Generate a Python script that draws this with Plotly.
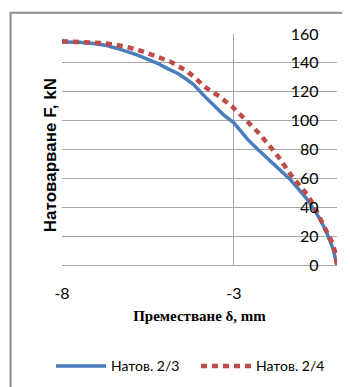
import plotly.graph_objects as go

# Натов. 2/3 (blue)
x_23 = [-8.0, -7.5, -7.09, -6.7, -6.39, -6.1, -5.8, -5.5, -5.22, -4.93, -4.64, -4.4, -4.17,
        -3.9, -3.57, -3.3, -3.0, -2.6, -2.3, -2.0, -1.72, -1.5, -1.37, -1.1, -0.88, -0.7,
        -0.5, -0.3, -0.12, 0.0]
f_23 = [154.5, 154.3, 153.4, 152, 150, 148, 145.4, 142.5, 139.7, 136, 132.8, 129, 125,
        118, 110, 104, 98.5, 87, 80, 73.3, 67.6, 62.5, 59.5, 52, 45.8, 39.5,
        32, 22.5, 11.5, 0]

# Натов. 2/4 (red)
x_24 = [-8.0, -7.4, -6.89, -6.5, -6.1, -5.7, -5.34, -5.1, -4.84, -4.6, -4.35, -4.1, -3.85,
        -3.43, -3.04, -2.65, -2.3, -1.92, -1.67, -1.33, -1.1, -0.84, -0.65, -0.46, -0.3,
        -0.17, -0.05, 0.0]
f_24 = [155, 154.6, 153.8, 152.8, 151, 148.3, 145.4, 143, 140.8, 137.5, 134, 129, 123.5,
        116.8, 109.5, 100.3, 92, 81.3, 73.8, 62, 55, 48, 40, 30, 23,
        17, 9, 0]

names = ["Натов. 2/3", "Натов. 2/4"]
x_title = "Преместване δ, mm"
y_title = "Натоварване F, kN"
x_ticks = [-8, -3]
x_ticktext = ["-8", "-3"]
y_ticks = [0, 20, 40, 60, 80, 100, 120, 140, 160]

fig = go.Figure()
fig.add_trace(go.Scatter(x=x_23, y=f_23, mode="lines", name=names[0],
                         line=dict(color="#4a7ebb", width=3.5)))
fig.add_trace(go.Scatter(x=x_24, y=f_24, mode="lines", name=names[1],
                         line=dict(color="#be4b48", width=4.5, dash="6px,5px")))
# invisible trace to carry the tick-label axis
fig.add_trace(go.Scatter(x=[x_23[0]], y=[f_23[0]], yaxis="y2", mode="lines",
                         showlegend=False, hoverinfo="skip", line=dict(width=0)))

grid = "#a6a6a6"
tick_font = dict(family="Lato, Liberation Sans, sans-serif", size=16, color="#000")
fig.update_layout(
    width=350, height=387,
    margin=dict(l=54, r=21, t=26, b=128),
    paper_bgcolor="white", plot_bgcolor="white",
    showlegend=True,
    legend=dict(orientation="h", x=-0.04, xanchor="left", y=-0.439, yanchor="middle",
                font=dict(family="Lato, Liberation Sans, sans-serif", size=14, color="#000"),
                itemwidth=50, entrywidth=80, entrywidthmode="pixels",
                bgcolor="rgba(0,0,0,0)"),
    xaxis=dict(range=[-8, 0], tickmode="array", tickvals=x_ticks, ticktext=x_ticktext,
               showgrid=True, gridcolor=grid, gridwidth=1, zeroline=False,
               showline=False, ticks="", tickfont=tick_font,
               ticklabelstandoff=17,
               title=dict(text=x_title, standoff=9,
                          font=dict(family="Liberation Serif, serif", size=15, color="#000",
                                    weight="bold"))),
    yaxis=dict(range=[0, 160], tickmode="array", tickvals=y_ticks,
               showticklabels=False,
               showgrid=True, gridcolor=grid, gridwidth=1, zeroline=True,
               zerolinecolor=grid, zerolinewidth=1, showline=False, ticks=""),
    yaxis2=dict(range=[0, 160], tickmode="array", tickvals=y_ticks, overlaying="y",
                side="left", anchor="free", position=0.933, showgrid=False,
                zeroline=False, showline=False, ticks="", tickfont=tick_font,
                ticklabelstandoff=0),
    annotations=[dict(text="<b>" + y_title + "</b>", xref="paper", yref="paper",
                      x=-0.044, y=0.475, xanchor="center", yanchor="middle",
                      textangle=-90, showarrow=False,
                      font=dict(family="Liberation Sans, Arial, sans-serif", size=17,
                                color="#000"))],
    shapes=[dict(type="rect", xref="paper", yref="paper", x0=-0.187, x1=1.2,
                 y0=-0.7, y1=1.0924, line=dict(color="#8c8c8c", width=2),
                 fillcolor="rgba(0,0,0,0)", layer="below")],
)

fig.write_html("out.html")
